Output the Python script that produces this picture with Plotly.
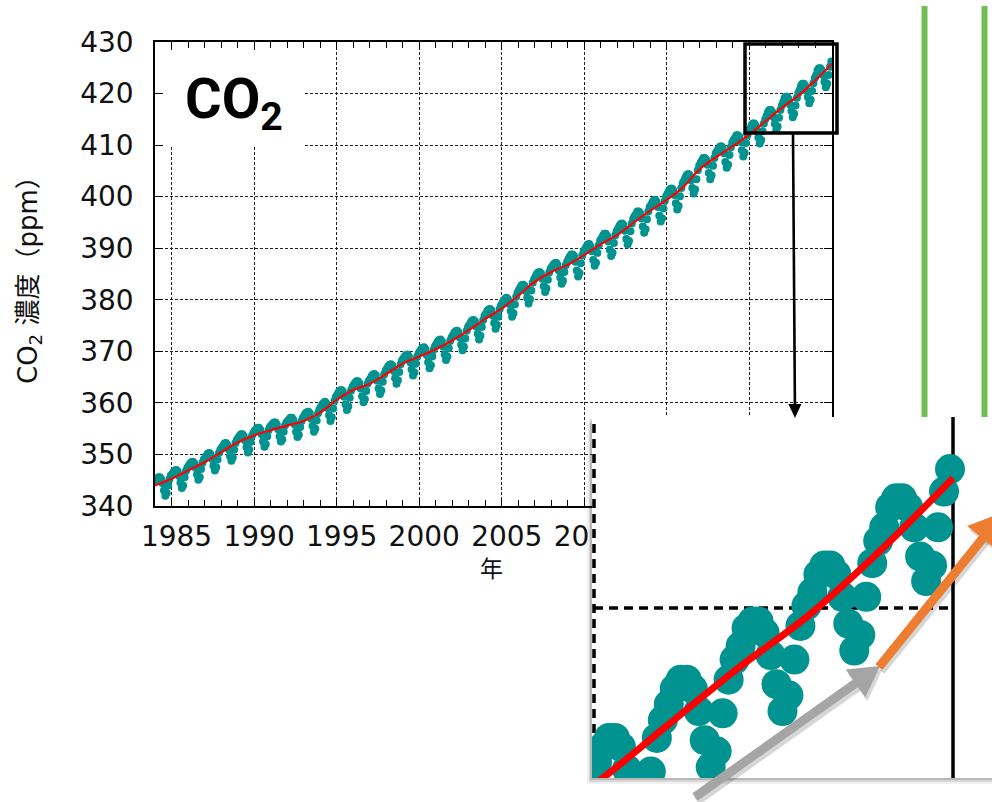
import plotly.graph_objects as go

W, H = 992, 802


def px(x):
    return x / W


def py(y):
    return 1 - y / H


# ---- data -------------------------------------------------------------
data_years = list(range(1984, 2025))

# monthly mean CO2 concentration (ppm), Jan..Dec for each year 1984-2024
co2_monthly = [
    344.9, 345.3, 345.6, 345.6, 345.2, 344.4, 343.0, 342.0, 342.5, 344.0, 345.2, 345.9,  # 1984
    346.2, 346.6, 346.9, 347.0, 346.7, 345.8, 344.5, 343.5, 344.0, 345.6, 346.8, 347.4,  # 1985
    347.8, 348.2, 348.5, 348.6, 348.3, 347.4, 346.1, 345.1, 345.6, 347.2, 348.4, 349.0,  # 1986
    349.4, 349.8, 350.2, 350.3, 350.0, 349.1, 347.8, 346.9, 347.5, 349.0, 350.3, 350.9,  # 1987
    351.3, 351.7, 352.1, 352.2, 351.9, 351.0, 349.7, 348.8, 349.4, 350.9, 352.2, 352.8,  # 1988
    353.2, 353.6, 353.9, 353.9, 353.6, 352.7, 351.4, 350.4, 350.9, 352.4, 353.6, 354.2,  # 1989
    354.6, 354.9, 355.2, 355.2, 354.8, 353.9, 352.5, 351.5, 352.0, 353.5, 354.7, 355.3,  # 1990
    355.6, 355.9, 356.2, 356.2, 355.8, 354.9, 353.5, 352.5, 352.9, 354.4, 355.6, 356.2,  # 1991
    356.5, 356.8, 357.1, 357.1, 356.7, 355.8, 354.4, 353.4, 353.8, 355.3, 356.5, 357.1,  # 1992
    357.5, 358.0, 358.2, 358.3, 358.0, 356.9, 355.5, 354.4, 355.0, 356.6, 358.0, 358.7,  # 1993
    359.2, 359.7, 360.0, 360.2, 359.9, 359.0, 357.6, 356.5, 357.2, 358.9, 360.4, 361.2,  # 1994
    361.6, 362.1, 362.4, 362.5, 362.2, 361.2, 359.7, 358.6, 359.3, 361.0, 362.4, 363.1,  # 1995
    363.5, 363.9, 364.2, 364.2, 363.8, 362.8, 361.3, 360.1, 360.7, 362.3, 363.7, 364.3,  # 1996
    364.7, 365.2, 365.5, 365.6, 365.3, 364.3, 362.8, 361.7, 362.4, 364.1, 365.5, 366.2,  # 1997
    366.6, 367.1, 367.4, 367.5, 367.2, 366.2, 364.8, 363.7, 364.4, 366.0, 367.5, 368.2,  # 1998
    368.6, 369.0, 369.3, 369.4, 369.0, 367.9, 366.5, 365.3, 365.9, 367.6, 368.9, 369.6,  # 1999
    370.0, 370.4, 370.7, 370.8, 370.4, 369.3, 367.9, 366.7, 367.3, 369.0, 370.3, 371.0,  # 2000
    371.4, 371.9, 372.2, 372.3, 371.9, 370.9, 369.4, 368.3, 369.0, 370.6, 372.0, 372.7,  # 2001
    373.1, 373.6, 373.9, 374.0, 373.7, 372.7, 371.3, 370.2, 370.9, 372.5, 374.0, 374.7,  # 2002
    375.1, 375.6, 376.0, 376.1, 375.8, 374.8, 373.4, 372.3, 373.0, 374.7, 376.1, 376.9,  # 2003
    377.3, 377.8, 378.1, 378.2, 377.9, 376.9, 375.5, 374.4, 375.1, 376.7, 378.2, 378.9,  # 2004
    379.4, 379.9, 380.2, 380.4, 380.1, 379.2, 377.8, 376.7, 377.4, 379.1, 380.6, 381.4,  # 2005
    381.9, 382.4, 382.8, 382.9, 382.7, 381.7, 380.4, 379.3, 380.1, 381.8, 383.3, 384.0,  # 2006
    384.5, 385.0, 385.3, 385.4, 385.1, 384.1, 382.6, 381.5, 382.2, 383.9, 385.3, 386.0,  # 2007
    386.4, 386.8, 387.1, 387.2, 386.8, 385.7, 384.3, 383.1, 383.7, 385.4, 386.7, 387.4,  # 2008
    387.9, 388.4, 388.8, 388.8, 388.5, 387.4, 385.7, 384.5, 385.2, 387.1, 388.6, 389.4,  # 2009
    389.8, 390.3, 390.7, 390.8, 390.4, 389.4, 387.7, 386.6, 387.2, 389.1, 390.6, 391.5,  # 2010
    391.9, 392.4, 392.8, 392.8, 392.4, 391.3, 389.7, 388.5, 389.1, 391.0, 392.5, 393.3,  # 2011
    393.8, 394.3, 394.7, 394.8, 394.5, 393.4, 391.8, 390.7, 391.4, 393.3, 394.8, 395.7,  # 2012
    396.2, 396.6, 397.1, 397.1, 396.8, 395.8, 394.2, 393.0, 393.7, 395.6, 397.1, 398.0,  # 2013
    398.4, 398.9, 399.3, 399.4, 399.0, 398.0, 396.3, 395.2, 395.8, 397.7, 399.2, 400.1,  # 2014
    400.6, 401.1, 401.5, 401.6, 401.3, 400.3, 398.7, 397.5, 398.2, 400.1, 401.7, 402.6,  # 2015
    403.1, 403.7, 404.2, 404.4, 404.2, 403.2, 401.7, 400.6, 401.4, 403.4, 405.1, 406.0,  # 2016
    406.6, 407.0, 407.5, 407.5, 407.2, 406.2, 404.6, 403.4, 404.1, 406.0, 407.5, 408.4,  # 2017
    408.8, 409.3, 409.7, 409.8, 409.4, 408.4, 406.7, 405.6, 406.2, 408.1, 409.6, 410.5,  # 2018
    411.0, 411.4, 411.9, 411.9, 411.6, 410.6, 409.0, 407.8, 408.5, 410.4, 411.9, 412.8,  # 2019
    413.1, 413.8, 414.2, 414.2, 413.8, 412.8, 411.5, 410.3, 411.0, 412.7, 414.2, 415.0,  # 2020
    415.7, 416.4, 416.8, 416.8, 416.4, 415.4, 414.1, 412.9, 413.6, 415.3, 416.8, 417.7,  # 2021
    418.3, 419.1, 419.4, 419.4, 418.9, 417.9, 416.6, 415.4, 416.1, 417.7, 419.2, 420.1,  # 2022
    420.7, 421.5, 421.9, 421.9, 421.5, 420.5, 419.3, 418.1, 418.8, 420.5, 422.0, 423.0,  # 2023
    423.6, 424.5, 424.9, 424.9, 424.5, 423.6, 422.3, 421.2, 421.9, 423.6, 425.2, 426.2,  # 2024
]

# long-term trend (seasonal cycle removed), value at the start of each year
trend_years = list(range(1984, 2026))
trend_ppm = [
    344.0, 345.3, 346.9, 348.5, 350.4, 352.3, 353.7, 354.7, 355.6, 356.5,
    358.1, 360.6, 362.5, 363.7, 365.6, 367.6, 369.0, 370.4, 372.1, 374.1,
    376.3, 378.3, 380.8, 383.5, 385.4, 386.8, 388.7, 390.8, 392.6, 395.0,
    397.3, 399.4, 401.9, 405.4, 407.7, 409.8, 412.1, 414.7, 417.3, 419.7,
    422.6, 425.8,
]

x_ticks = [1985, 1990, 1995, 2000, 2005, 2010, 2015, 2020]
x_tick_text = [str(v) for v in x_ticks]
y_ticks = [340, 350, 360, 370, 380, 390, 400, 410, 420, 430]

# mid-month time stamps
month_x = [yr + (m + 0.5) / 12 for yr in data_years for m in range(12)]

TEAL = "#00938f"
RED = "#ff0000"
GRID = "#222222"
FONT_NUM = "DejaVu Sans"
FONT_JP = "DejaVu Sans, Noto Sans CJK JP"

fig = go.Figure()

# ---- main panel ----
fig.add_trace(go.Scatter(
    x=month_x, y=co2_monthly, mode="markers",
    marker=dict(color=TEAL, size=8, line=dict(width=0)),
    xaxis="x", yaxis="y", showlegend=False, hoverinfo="skip",
))
fig.add_trace(go.Scatter(
    x=trend_years, y=trend_ppm, mode="lines",
    line=dict(color=RED, width=2.2, shape="spline", smoothing=1.0),
    xaxis="x", yaxis="y", showlegend=False, hoverinfo="skip",
))

# ---- magnified panel (2020-2025) ----
fig.add_trace(go.Scatter(
    x=month_x, y=co2_monthly, mode="markers",
    marker=dict(color=TEAL, size=30, line=dict(width=0)),
    xaxis="x2", yaxis="y2", showlegend=False, hoverinfo="skip",
))
fig.add_trace(go.Scatter(
    x=trend_years, y=trend_ppm, mode="lines",
    line=dict(color=RED, width=7, shape="spline", smoothing=1.0),
    xaxis="x2", yaxis="y2", showlegend=False, hoverinfo="skip",
))

main_x = [px(155), px(832)]
main_y = [py(506), py(42)]

axis_common = dict(
    showline=True, linecolor="black", linewidth=1.5, mirror="ticks",
    ticks="inside", tickcolor="black", tickwidth=1.2, ticklen=8,
    showgrid=True, gridcolor=GRID, gridwidth=1, griddash="3px,2px",
    zeroline=False, fixedrange=True, automargin=False,
    tickfont=dict(family=FONT_NUM, size=28, color="#111111"),
)

# inset ranges: 2020 at x=594px, 2025 at x=953px; 420 ppm at y=608px
ix_per_year = (953 - 594) / 5.0
iy_per_ppm = 22.4
inset_x_range = [2020 - (594 - 592) / ix_per_year, 2025 + (992 - 953) / ix_per_year]
inset_y_range = [420 - (778 - 608) / iy_per_ppm, 420 + (608 - 417) / iy_per_ppm]

inset_axis = dict(
    showgrid=False, zeroline=False, showline=False, ticks="",
    showticklabels=False, fixedrange=True, automargin=False,
)

fig.update_layout(
    width=W, height=H,
    margin=dict(l=0, r=0, t=0, b=0, autoexpand=False),
    paper_bgcolor="#ffffff", plot_bgcolor="#ffffff",
    showlegend=False,
    xaxis=dict(
        domain=main_x, range=[1984, 2025], anchor="y",
        tickmode="array", tickvals=x_ticks, ticktext=x_tick_text,
        minor=dict(tickmode="linear", tick0=1984, dtick=1, ticks="inside",
                   ticklen=6, tickcolor="black", tickwidth=1, showgrid=False),
        ticklabelstandoff=5, ticklabelshift=5,
        **axis_common,
    ),
    yaxis=dict(
        domain=main_y, range=[340, 430], anchor="x",
        tickmode="array", tickvals=y_ticks,
        ticklabelstandoff=14,
        **axis_common,
    ),
    xaxis2=dict(domain=[px(592), 1.0], range=inset_x_range, anchor="y2", **inset_axis),
    yaxis2=dict(domain=[py(778), py(417)], range=inset_y_range, anchor="x2", **inset_axis),
)


def tri_path(pts):
    """SVG path (paper coordinates) for a closed polygon given in pixels."""
    s = "M " + " L ".join(f"{px(x):.5f},{py(y):.5f}" for x, y in pts)
    return s + " Z"


def arrow_shapes(tail, tip, color, width, head_len, head_half):
    tx, ty = tail
    hx, hy = tip
    dx, dy = hx - tx, hy - ty
    ln = (dx * dx + dy * dy) ** 0.5
    ux, uy = dx / ln, dy / ln
    nx, ny = -uy, ux
    bx, by = hx - head_len * ux, hy - head_len * uy
    return [
        dict(type="line", xref="paper", yref="paper", layer="above",
             x0=px(tx), y0=py(ty), x1=px(bx + 2 * ux), y1=py(by + 2 * uy),
             line=dict(color=color, width=width)),
        dict(type="path", xref="paper", yref="paper", layer="above",
             path=tri_path([(hx, hy), (bx + head_half * nx, by + head_half * ny),
                            (bx - head_half * nx, by - head_half * ny)]),
             fillcolor=color, line=dict(width=0)),
    ]


shapes = []
# drop shadow of the magnified panel
for off, alpha in [((-5, 6), 0.06), ((-3, 4), 0.10), ((-2, 2), 0.14)]:
    shapes.append(dict(
        type="rect", xref="paper", yref="paper", layer="below",
        x0=px(592 + off[0]), x1=px(992), y0=py(778 + off[1]), y1=py(417 + off[1]),
        fillcolor=f"rgba(0,0,0,{alpha})", line=dict(width=0),
    ))
# white box behind the CO2 label
shapes.append(dict(
    type="rect", xref="x", yref="y", layer="between",
    x0=1984, x1=1984 + (303 - 155) / 16.51, y0=430 - (147 - 42) / 5.15, y1=430,
    fillcolor="#ffffff", line=dict(width=0),
))
# grid and frame lines inside the magnified panel
shapes.append(dict(
    type="line", xref="x2", yref="y2", layer="between",
    x0=2020, x1=2020, y0=inset_y_range[0], y1=inset_y_range[1] - 0.2,
    line=dict(color="black", width=3.5, dash="9px,6px"),
))
shapes.append(dict(
    type="line", xref="x2", yref="y2", layer="between",
    x0=2020, x1=2025, y0=420, y1=420,
    line=dict(color="black", width=3.5, dash="9px,6px"),
))
shapes.append(dict(
    type="line", xref="x2", yref="y2", layer="between",
    x0=2025, x1=2025, y0=inset_y_range[0], y1=inset_y_range[1],
    line=dict(color="black", width=3.5),
))
# selection frame on the main panel
shapes.append(dict(
    type="rect", xref="paper", yref="paper", layer="above",
    x0=px(745), x1=px(837), y0=py(133), y1=py(44),
    line=dict(color="black", width=3.5), fillcolor="rgba(0,0,0,0)",
))
# pointer from the selection frame down to the magnified panel
shapes += arrow_shapes((793, 133), (795, 418), "black", 2.6, 14, 6.5)
# two green vertical bars at the right
for gx in (924.5, 984.5):
    shapes.append(dict(
        type="line", xref="paper", yref="paper", layer="above",
        x0=px(gx), x1=px(gx), y0=py(6), y1=py(417),
        line=dict(color="#70bf50", width=6),
    ))
# growth arrows with a soft shadow
shapes += arrow_shapes((697, 801), (882, 670), "rgba(0,0,0,0.16)", 9, 30, 17)
shapes += arrow_shapes((881, 671), (1006, 516), "rgba(0,0,0,0.16)", 9, 34, 20)
shapes += arrow_shapes((695, 797), (880, 666), "#a5a5a5", 9, 30, 17)
shapes += arrow_shapes((879, 667), (1004, 512), "#ed7d31", 9, 34, 20)
fig.update_layout(shapes=shapes)

annotations = [
    # CO2 label
    dict(xref="paper", yref="paper", x=px(183), y=py(103),
         xanchor="left", yanchor="middle", showarrow=False,
         text="<b>CO<sub>2</sub></b>",
         font=dict(family="Roboto", size=56, color="black")),
    # axis titles
    dict(xref="paper", yref="paper", x=px(30), y=py(274),
         xanchor="center", yanchor="middle", showarrow=False, textangle=-90,
         text="CO<sub>2</sub> 濃度（ppm）",
         font=dict(family=FONT_JP, size=26, color="#111111")),
    dict(xref="paper", yref="paper", x=px(491), y=py(567),
         xanchor="center", yanchor="middle", showarrow=False,
         text="年", font=dict(family="Noto Sans CJK JP", size=23, color="#111111")),
]
fig.update_layout(annotations=annotations)

fig.write_html("out.html")
